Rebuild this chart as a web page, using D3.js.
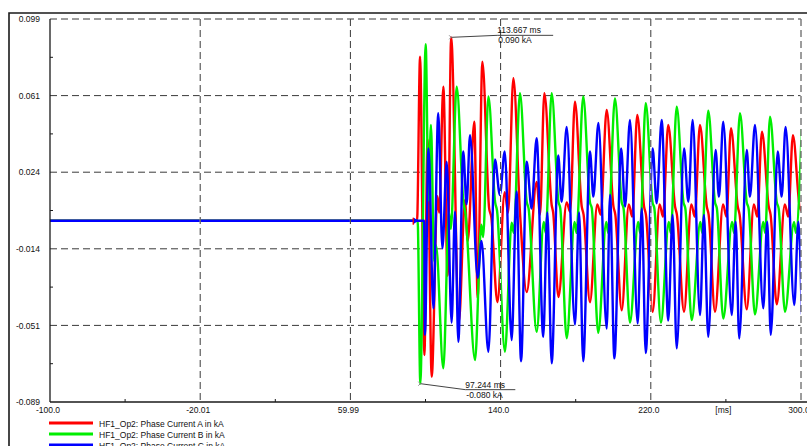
<!DOCTYPE html>
<html>
<head>
<meta charset="utf-8">
<script src="https://cdn.jsdelivr.net/npm/d3@7/dist/d3.min.js"></script>
<style>
  body { margin: 0; background: #fff; }
  text { font-family: "Liberation Sans", Arial, sans-serif; }
</style>
</head>
<body>
<div id="chart"></div>
<script>
// time axis [ms] and current axis [kA]
const xTicks = [-100, -20, 60, 140, 220, 300];
const xTickLabels = ["-100.0", "-20.01", "59.99", "140.0", "220.0", "300.0"];
const xMinor = [-60, 20, 100, 180, 260];
const yTicks = [-0.089, -0.0514, -0.0138, 0.0238, 0.0614, 0.099];
const yTickLabels = ["-0.089", "-0.051", "-0.014", "0.024", "0.061", "0.099"];
const yMinor = [-0.0702, -0.0326, 0.005, 0.0426, 0.0802];

const seriesNames = [
  "HF1_Op2: Phase Current A in kA",
  "HF1_Op2: Phase Current B in kA",
  "HF1_Op2: Phase Current C in kA"
];
const seriesColors = ["#ff0000", "#00ee00", "#0000ff"];

// [t ms, i kA] turning points
const phaseA = [[-100,0],[95.5,0],[97.1,0.0805],[99.4,-0.066],[101.1,0.040],[103.3,-0.0766],[106.3,0.012],[107.3,0.004],[109.5,0.0658],[111.8,-0.027],[113.667,0.090],[117.8,-0.0496],[121.0,0.010],[122.5,-0.010],[126.0,0.0486],[127.8,-0.038],[130.3,0.078],[133.9,0.006],[135.0,0.002],[138.3,-0.040],[142.2,0.014],[144.0,0.004],[146.8,0.070],[150.3,0.0044],[153.9,-0.035],[159.2,0.019],[161.0,0.003],[163.3,0.0626],[167.2,0.0077],[168.0,0.004],[170.8,-0.0375],[175.2,0.009],[177.0,0.0045],[179.6,0.0584],[183.2,0.007],[184.2,0.003],[187.6,-0.040],[191.5,0.008],[193.3,0.003],[196.5,0.0544],[200.1,0.007],[201.1,0.003],[204.5,-0.044],[208.3,0.008],[210.1,0.002],[212.8,0.0519],[216.4,0.007],[217.4,0.003],[221.0,-0.0447],[224.7,0.008],[226.5,0.002],[229.3,0.047],[232.9,0.007],[233.9,0.003],[237.7,-0.0447],[241.6,0.008],[243.4,0.002],[246.2,0.047],[249.8,0.007],[250.8,0.003],[254.2,-0.0447],[258.5,0.008],[260.3,0.002],[262.7,0.0454],[266.3,0.007],[267.3,0.003],[271.1,-0.0435],[274.9,0.008],[276.7,0.002],[279.2,0.0437],[282.8,0.007],[283.8,0.003],[287.1,-0.041],[291.4,0.008],[293.2,0.002],[295.7,0.042],[299.3,0.007],[301,0.004]];

const phaseB = [[-100,0],[95.8,0],[97.244,-0.080],[100.1,0.0866],[101.6,0.010],[102.9,0.047],[104.6,-0.020],[105.6,-0.012],[109.5,-0.0725],[112.5,0.004],[113.5,-0.004],[116.6,0.0658],[120.2,0.009],[121.2,0.004],[126.4,-0.0684],[129.7,-0.002],[130.7,-0.008],[133.5,0.061],[137.1,0.009],[138.1,0.005],[142.3,-0.0643],[145.9,-0.001],[147.0,-0.006],[150.3,0.0626],[153.9,0.0093],[154.9,0.006],[159.2,-0.0545],[163.0,-0.0006],[164.0,-0.006],[167.2,0.0626],[170.8,0.0093],[171.8,0.006],[175.2,-0.0577],[179.4,-0.0006],[180.4,-0.006],[184.0,0.061],[187.6,0.009],[188.6,0.006],[192.0,-0.055],[196.3,-0.0006],[197.3,-0.006],[200.9,0.060],[204.5,0.009],[205.5,0.006],[208.9,-0.050],[213.3,-0.0006],[214.3,-0.006],[217.3,0.0577],[220.9,0.009],[221.9,0.006],[225.4,-0.050],[229.6,-0.0006],[230.6,-0.006],[233.8,0.056],[237.4,0.009],[238.4,0.006],[241.8,-0.0488],[246.4,-0.0006],[247.4,-0.006],[250.6,0.054],[254.2,0.009],[255.2,0.006],[258.6,-0.048],[263.3,-0.0006],[264.3,-0.006],[267.5,0.0527],[271.1,0.009],[272.1,0.006],[275.5,-0.046],[279.9,-0.0006],[280.9,-0.006],[283.5,0.051],[287.1,0.009],[288.1,0.006],[291.5,-0.0447],[296.3,-0.0006],[297.3,-0.006],[300.4,0.045]];

const phaseC = [[-100,0],[99.3,0],[99.7,-0.056],[101.6,0.0355],[104.2,-0.043],[106.8,0.0527],[109.0,-0.0136],[111.3,0.029],[113.9,-0.050],[115.7,0.0044],[117.5,-0.0594],[120.1,0.034],[121.9,0.008],[123.7,0.042],[127.8,-0.028],[129.8,-0.010],[133.5,-0.0643],[137.0,0.030],[139.6,0.0126],[142.2,0.034],[145.9,-0.0586],[148.5,0.0143],[150.9,-0.069],[153.9,0.029],[156.5,0.006],[159.2,0.0405],[162.7,-0.057],[164.9,0.004],[167.2,-0.070],[170.7,0.032],[172.5,0.0093],[175.2,0.046],[179.6,-0.051],[181.8,0.004],[184.0,-0.069],[187.6,0.034],[189.4,0.0118],[192.1,0.048],[196.5,-0.0529],[198.3,0.0126],[200.6,-0.0676],[204.2,0.0355],[206.3,0.0069],[208.9,0.0494],[213.0,-0.0504],[215.2,0.006],[217.3,-0.065],[221.0,0.0355],[223.1,0.0085],[225.8,0.0494],[229.3,-0.049],[231.6,0.0028],[233.8,-0.0627],[237.7,0.0355],[240.0,0.0093],[242.3,0.0494],[246.2,-0.0463],[248.3,0.0028],[250.6,-0.057],[254.5,0.0347],[256.3,0.0118],[258.6,0.0486],[263.1,-0.0463],[265.2,-0.0005],[267.1,-0.0578],[271.1,0.0347],[272.8,0.0118],[275.5,0.047],[279.9,-0.043],[282.0,-0.0005],[283.9,-0.056],[287.6,0.034],[289.7,0.0118],[291.8,0.046],[296.4,-0.0414],[298.6,-0.0005],[300.4,-0.046]];

// cursor readouts [t, i, label1, label2]
const cursorMax = [113.667, 0.090, "113.667 ms", "0.090 kA"];
const cursorMin = [97.244, -0.080, "97.244 ms", "-0.080 kA"];

const width = 807, height = 446;
const fontSize = 8.5;
const x = d3.scaleLinear().domain([-100, 300]).range([50, 801]);
const y = d3.scaleLinear().domain([-0.089, 0.099]).range([402, 19]);

const svg = d3.select("#chart").append("svg")
  .attr("width", width)
  .attr("height", height);

svg.append("defs").append("clipPath")
  .attr("id", "clip-plot")
  .append("rect")
  .attr("x", 50).attr("y", 19)
  .attr("width", 751).attr("height", 383);

// outer frame
svg.append("path")
  .attr("d", `M9,${height} L9,13 L${width},13`)
  .attr("fill", "none")
  .attr("stroke", "#1a1a1a")
  .attr("stroke-width", 1.6);

// horizontal grid
svg.append("g").selectAll("line")
  .data(yTicks.slice(1))
  .enter().append("line")
  .attr("x1", 50).attr("x2", 801)
  .attr("y1", d => y(d)).attr("y2", d => y(d))
  .attr("stroke", "#3a3a3a")
  .attr("stroke-dasharray", "7,4");

// traces
const line = d3.line()
  .x(d => x(d[0]))
  .y(d => y(d[1]))
  .curve(d3.curveMonotoneX);

const plot = svg.append("g").attr("clip-path", "url(#clip-plot)");
[phaseA, phaseB, phaseC].forEach((data, i) => {
  plot.append("path")
    .datum(data)
    .attr("d", line)
    .attr("fill", "none")
    .attr("stroke", seriesColors[i])
    .attr("stroke-width", 2.4)
    .attr("stroke-linejoin", "round");
});

// trigger marker
svg.append("line")
  .attr("x1", x(93.5)).attr("x2", x(93.5))
  .attr("y1", y(0) - 3).attr("y2", y(0) + 4)
  .attr("stroke", "#ff0000").attr("stroke-width", 1.5);
svg.append("path")
  .attr("d", `M${x(93.8)},${y(0) - 3} L${x(96.2)},${y(0)} L${x(93.8)},${y(0) + 3} Z`)
  .attr("fill", "#0000ff");

// vertical grid, drawn above the traces
const vGrid = svg.append("g");
vGrid.selectAll(".bg")
  .data(xTicks.slice(1))
  .enter().append("line")
  .attr("x1", d => x(d)).attr("x2", d => x(d))
  .attr("y1", 19).attr("y2", 402)
  .attr("stroke", "#fff");
vGrid.selectAll(".fg")
  .data(xTicks.slice(1))
  .enter().append("line")
  .attr("x1", d => x(d)).attr("x2", d => x(d))
  .attr("y1", 19).attr("y2", 402)
  .attr("stroke", "#3a3a3a")
  .attr("stroke-dasharray", "7,4");

// axis lines
svg.append("line")
  .attr("x1", 50).attr("x2", 50).attr("y1", 19).attr("y2", 402)
  .attr("stroke", "#1a1a1a").attr("stroke-width", 1.3);
svg.append("line")
  .attr("x1", 50).attr("x2", width).attr("y1", 402).attr("y2", 402)
  .attr("stroke", "#1a1a1a").attr("stroke-width", 1.3);

// minor ticks
svg.append("g").selectAll("line")
  .data(yMinor)
  .enter().append("line")
  .attr("x1", 50).attr("x2", 53)
  .attr("y1", d => y(d)).attr("y2", d => y(d))
  .attr("stroke", "#1a1a1a");
svg.append("g").selectAll("line")
  .data(xMinor)
  .enter().append("line")
  .attr("x1", d => x(d)).attr("x2", d => x(d))
  .attr("y1", 402).attr("y2", 399)
  .attr("stroke", "#1a1a1a");

// tick labels
const xAxis = d3.axisBottom(x)
  .tickValues(xTicks)
  .tickFormat((d, i) => xTickLabels[i])
  .tickSize(0)
  .tickPadding(5);
const gx = svg.append("g")
  .attr("transform", "translate(0,402)")
  .call(xAxis);
gx.select(".domain").remove();
gx.selectAll("text").attr("dx", -2.5);

const yAxis = d3.axisLeft(y)
  .tickValues(yTicks)
  .tickFormat((d, i) => yTickLabels[i])
  .tickSize(0)
  .tickPadding(10);
const gy = svg.append("g")
  .attr("transform", "translate(50,0)")
  .call(yAxis);
gy.select(".domain").remove();

svg.selectAll(".tick text")
  .attr("font-family", "Liberation Sans, Arial, sans-serif")
  .attr("font-size", fontSize)
  .attr("fill", "#111");

svg.append("text")
  .attr("x", x(260) - 2.5)
  .attr("y", 413)
  .attr("text-anchor", "middle")
  .attr("font-size", fontSize)
  .attr("fill", "#111")
  .text("[ms]");

// cursor readouts
function cursor(c, lineDy, textDx, textY1, textY2, lineLen) {
  const px = x(c[0]), py = y(c[1]);
  const ly = py + lineDy;
  svg.append("path")
    .attr("d", `M${px},${py} L${px + textDx},${ly} L${px + textDx + lineLen},${ly}`)
    .attr("fill", "none")
    .attr("stroke", "#444")
    .attr("stroke-width", 1);
  svg.append("path")
    .attr("d", `M${px - 2},${py - 2} L${px},${py} L${px - 2},${py + 2}`)
    .attr("fill", "none")
    .attr("stroke", "#888")
    .attr("stroke-width", 1);
  svg.append("text")
    .attr("x", px + textDx).attr("y", py + textY1)
    .attr("font-size", fontSize).attr("fill", "#111")
    .text(c[2]);
  svg.append("text")
    .attr("x", px + textDx + 1).attr("y", py + textY2)
    .attr("font-size", fontSize).attr("fill", "#111")
    .text(c[3]);
}
cursor(cursorMax, -2, 46, -4, 6, 56);
cursor(cursorMin, 6, 45, 4, 14, 50);

// legend
const legend = svg.append("g");
seriesNames.forEach((name, i) => {
  const ly = 423 + i * 11;
  legend.append("line")
    .attr("x1", 49).attr("x2", 93)
    .attr("y1", ly).attr("y2", ly)
    .attr("stroke", seriesColors[i])
    .attr("stroke-width", 3);
  legend.append("text")
    .attr("x", 99).attr("y", ly + 3.5)
    .attr("font-size", fontSize).attr("fill", "#111")
    .text(name);
});
</script>
</body>
</html>
